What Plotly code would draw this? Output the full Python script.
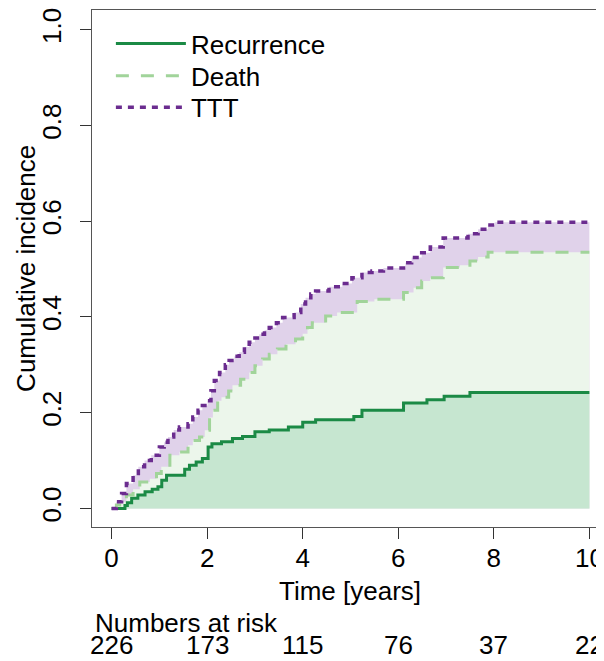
import plotly.graph_objects as go

# ---- data ----
rec_t = [0, 0.28, 0.33, 0.42, 0.55, 0.70, 0.85, 0.97, 1.05, 1.15, 1.53, 1.63, 1.77, 1.90,
         2.02, 2.10, 2.30, 2.53, 2.74, 3.00, 3.30, 3.70, 4.00, 4.27, 5.07, 5.24, 6.11,
         6.60, 6.96, 7.50, 10]
rec_v = [0, 0.006, 0.012, 0.021, 0.028, 0.035, 0.040, 0.045, 0.059, 0.069, 0.082, 0.090,
         0.097, 0.104, 0.128, 0.135, 0.139, 0.146, 0.150, 0.160, 0.164, 0.170, 0.180, 0.185,
         0.192, 0.205, 0.220, 0.227, 0.234, 0.242, 0.242]

death_t = [0, 0.10, 0.17, 0.31, 0.45, 0.59, 0.80, 0.94, 1.04, 1.22, 1.42, 1.60, 1.70, 1.84,
           1.95, 2.05, 2.12, 2.22, 2.30, 2.45, 2.53, 2.70, 2.88, 3.00, 3.16, 3.30, 3.47,
           3.65, 3.85, 4.00, 4.10, 4.20, 4.48, 4.72, 5.14, 5.50, 6.11, 6.32, 6.49, 6.67,
           6.94, 7.29, 7.50, 7.67, 7.88, 10]
death_v = [0, 0.007, 0.014, 0.028, 0.040, 0.055, 0.062, 0.073, 0.087, 0.111, 0.118, 0.132,
           0.142, 0.149, 0.163, 0.190, 0.205, 0.225, 0.232, 0.245, 0.257, 0.270, 0.284,
           0.298, 0.312, 0.322, 0.333, 0.343, 0.354, 0.365, 0.378, 0.388, 0.402, 0.409,
           0.432, 0.437, 0.451, 0.461, 0.475, 0.482, 0.503, 0.508, 0.517, 0.525, 0.535,
           0.535]

ttt_t = [0, 0.10, 0.21, 0.31, 0.45, 0.56, 0.69, 0.83, 1.00, 1.10, 1.18, 1.30, 1.42, 1.60,
         1.70, 1.81, 1.90, 2.01, 2.08, 2.15, 2.26, 2.38, 2.46, 2.57, 2.67, 2.78, 2.88,
         3.00, 3.09, 3.20, 3.30, 3.45, 3.58, 3.82, 3.96, 4.06, 4.17, 4.27, 4.55, 4.83,
         5.03, 5.24, 5.45, 5.69, 6.15, 6.28, 6.49, 6.67, 6.94, 7.46, 7.67, 7.88, 8.02, 10]
ttt_v = [0, 0.014, 0.031, 0.052, 0.069, 0.087, 0.100, 0.111, 0.128, 0.138, 0.149, 0.164,
         0.170, 0.177, 0.191, 0.205, 0.215, 0.225, 0.246, 0.267, 0.284, 0.300, 0.309,
         0.318, 0.326, 0.337, 0.347, 0.356, 0.364, 0.372, 0.378, 0.388, 0.399, 0.409,
         0.427, 0.440, 0.448, 0.454, 0.463, 0.470, 0.482, 0.493, 0.496, 0.502, 0.513,
         0.524, 0.534, 0.546, 0.565, 0.574, 0.583, 0.592, 0.598, 0.598]

risk_t = [0, 2, 4, 6, 8, 10]
risk_n = ["226", "173", "115", "76", "37", "22"]

x_ticks = [0, 2, 4, 6, 8, 10]
y_ticks = [0.0, 0.2, 0.4, 0.6, 0.8, 1.0]
y_labels = ["0.0", "0.2", "0.4", "0.6", "0.8", "1.0"]

# ---- styles ----
C_REC = "#1b8a45"
C_REC_FILL = "#c6e6d0"
C_DEATH = "#a1d49a"
C_DEATH_FILL = "#ecf6eb"
C_TTT = "#6b2c8f"
C_TTT_FILL = "#e0d2ea"
FONT = "Liberation Sans, Arial, sans-serif"
FS = 26

fig = go.Figure()
# filled areas (layered by drawing order)
for t, v, fc in [(ttt_t, ttt_v, C_TTT_FILL), (death_t, death_v, C_DEATH_FILL),
                 (rec_t, rec_v, C_REC_FILL)]:
    fig.add_trace(go.Scatter(x=t, y=v, mode="lines", line=dict(width=0, shape="hv"),
                             fill="tozeroy", fillcolor=fc, showlegend=False,
                             hoverinfo="skip"))

fig.add_trace(go.Scatter(x=rec_t, y=rec_v, mode="lines", name="Recurrence",
                         legend="legend",
                         line=dict(color=C_REC, width=3, shape="hv")))
fig.add_trace(go.Scatter(x=death_t, y=death_v, mode="lines", name="Death",
                         legend="legend2",
                         line=dict(color=C_DEATH, width=3, shape="hv", dash="13px,12px")))
fig.add_trace(go.Scatter(x=ttt_t, y=ttt_v, mode="lines", name="TTT",
                         legend="legend3",
                         line=dict(color=C_TTT, width=3.5, shape="hv", dash="6px,6px")))

# figure pixel coordinates (the page adds an 8px body offset)
W, H = 596, 653
L, R, T, B = 84, 0, 0, 134
pw, ph = W - L - R, H - T - B

def py(p):  # figure pixel y -> paper y
    return (H - B - p) / ph

def px(p):  # figure pixel x -> paper x
    return (p - L) / pw

ann = [
    dict(text="Time [years]", x=5, xref="x", y=py(583), yref="paper",
         showarrow=False, xanchor="center", yanchor="middle"),
    dict(text="Cumulative incidence", x=px(17), xref="paper", y=0.5, yref="paper",
         showarrow=False, textangle=-90, xanchor="center", yanchor="middle"),
    dict(text="Numbers at risk", x=px(85), xref="paper", y=py(615.5), yref="paper",
         showarrow=False, xanchor="left", yanchor="middle"),
]
for t, n in zip(risk_t, risk_n):
    ann.append(dict(text=n, x=t, xref="x", y=py(637), yref="paper", showarrow=False,
                    xanchor="center", yanchor="middle"))

def leg(cy):
    return dict(x=px(103), y=py(cy), xanchor="left", yanchor="middle",
                bgcolor="rgba(0,0,0,0)", font=dict(size=FS), itemwidth=70)

fig.update_layout(
    width=W, height=H,
    margin=dict(l=L, r=R, t=T, b=B, pad=0),
    paper_bgcolor="white", plot_bgcolor="white",
    font=dict(family=FONT, size=FS, color="black"),
    xaxis=dict(range=[-0.41, 10.243], tickvals=x_ticks, ticks="outside", ticklen=11,
               tickcolor="#333", tickwidth=1, showgrid=False, zeroline=False,
               showline=True, linecolor="#555", linewidth=1, mirror=True,
               tickfont=dict(size=FS), ticklabelstandoff=-3,
               ticklabeloverflow="allow"),
    yaxis=dict(range=[-0.0389, 1.0412], tickvals=y_ticks, ticktext=y_labels,
               ticks="outside", ticklen=11, tickcolor="#333", tickwidth=1,
               showgrid=False, zeroline=False, showline=True, linecolor="#555",
               linewidth=1, tickangle=-90, tickfont=dict(size=FS),
               ticklabelstandoff=9, ticklabeloverflow="allow"),
    legend=leg(33.7),
    legend2=leg(66),
    legend3=leg(97.8),
    annotations=ann,
    showlegend=True,
)

fig.write_html("out.html")
